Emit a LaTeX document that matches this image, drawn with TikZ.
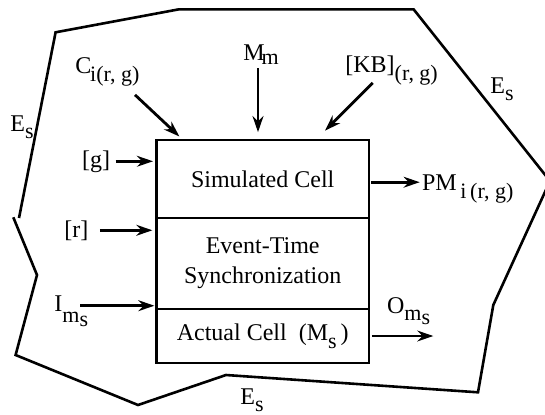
\documentclass[tikz,border=0pt]{standalone}
\usepackage{fontspec}
\setmainfont{Liberation Serif}
\usetikzlibrary{arrows.meta,positioning,calc}
\newcommand{\lsub}[2][0.35em]{\raisebox{-#1}{\fontsize{11}{11}\selectfont #2}}

\begin{document}
\begin{tikzpicture}[x=0.5pt,y=-0.5pt,font=\fontsize{12}{15}\selectfont]
\tikzset{
  part/.style={draw, line width=1.2pt, minimum width=106.3pt, inner sep=0pt, outer sep=0pt, align=center},
  lbl/.style={inner sep=0pt, anchor=base west},
  feed/.style={-{Stealth[length=8pt,width=5.4pt]}, line width=1.4pt},
  envline/.style={line width=1.3pt, line join=miter}
}
\useasboundingbox (0,0) rectangle (545,414);
\clip (0,0) rectangle (545,414);
% environment boundary
\draw[envline] (19,218) -- (55.6,32.3) -- (179,9.3) -- (413.6,9.3) -- (550,181)
  -- (493.3,305) -- (478,392.3) -- (226,375) -- (138,405) -- (15.6,355)
  -- (37,275) -- (13.3,217.3);
\node[lbl] (esl) at (10,131) {E\lsub[0.3em]{s}};
\node[lbl] (esr) at (490,93) {E\lsub[0.3em]{s}};
\node[lbl] (esb) at (240,404) {E\lsub[0.3em]{s}};
% the cell
\node[part, minimum height=39pt, anchor=north west] (sim) at (156.4,140) {Simulated Cell};
\node[part, minimum height=45.5pt, below=0pt of sim] (sync) {Event-Time\\Synchronization};
\node[part, minimum height=27pt, below=0pt of sync] (act) {Actual Cell\enspace(M\lsub{s}\,)};
% inputs
\node[lbl] (ci) at (75,73.3) {C\lsub{\kern-0.6pt i(r, g)}};
\node[lbl] (mm) at (243,60) {M\lsub[0.2em]{\kern-1.5pt m}};
\node[lbl] (kb) at (345,72) {[KB]\lsub{(r, g)}};
\node[lbl] (g) at (81.7,167) {[g]};
\node[lbl] (r) at (64,237) {[r]};
\node[lbl] (ims) at (54,311.7) {I\lsub[0.45em]{m\lsub[0.2em]{s}}};
% outputs
\node[lbl] (pm) at (421.7,190) {PM\lsub{\,i\,(r, g)}};
\node[lbl] (om) at (386.7,313) {O\lsub[0.3em]{m\lsub[0.2em]{s}}};
\draw[feed] ($(ci.south west)+(60,8)$) -- ($(sim.north west)+(23,-3.5)$);
\draw[feed] ($(mm.south west)+(15,3)$) -- ($(mm.south west -| sim.north)+(-4.7,0)+(0,67)$);
\draw[feed] ($(kb.south west)+(27.7,-2.7)$) -- ($(sim.north east)+(-44,-9.3)$);
\draw[feed] ([xshift=2.6pt]g.east) -- ([xshift=-1.7pt]g.east -| sim.west);
\draw[feed] ([xshift=5.6pt]r.east) -- ([xshift=-2pt]r.east -| sync.west);
\draw[feed] ($(ims.base west)+(26,-6)$) -- ($(ims.base west -| act.west)+(-2,-6)$);
\draw[feed] ([xshift=1pt,yshift=-1.6pt]sim.east) -- ([xshift=-1pt,yshift=-1.6pt]sim.east -| pm.west);
\draw[feed] ([xshift=1.4pt]act.east) -- ([xshift=1.4pt]act.east -| om.east);
\end{tikzpicture}
\end{document}
